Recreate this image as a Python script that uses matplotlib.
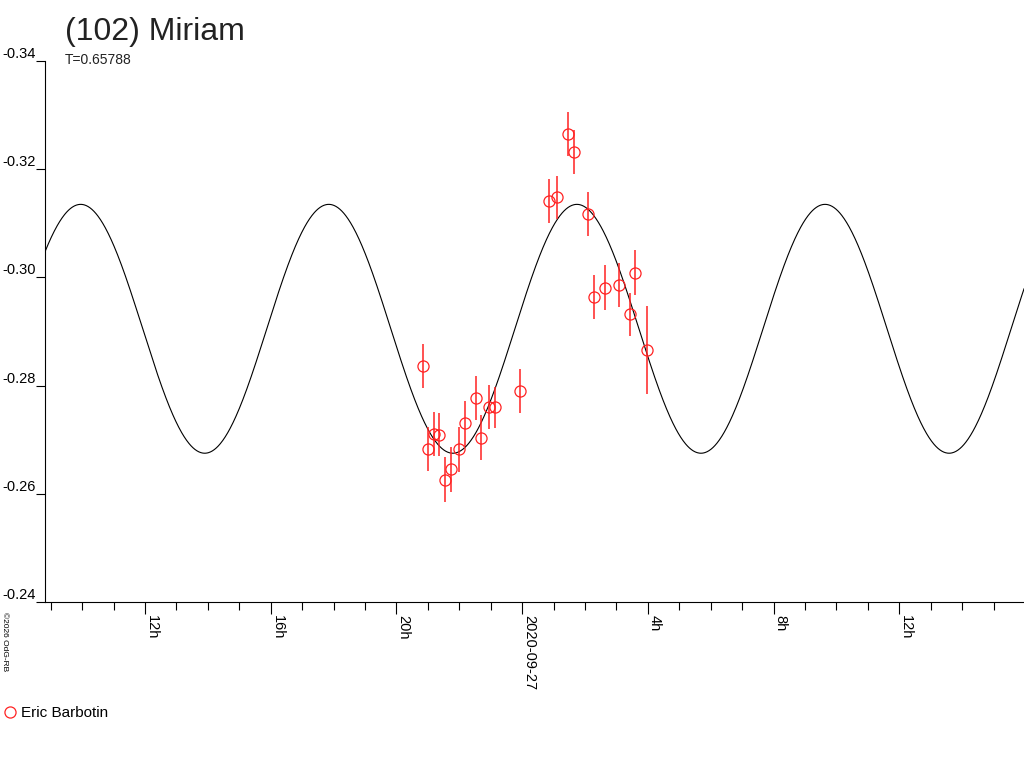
import numpy as np
import matplotlib
matplotlib.use("Agg")
import matplotlib.pyplot as plt
from matplotlib.lines import Line2D

plt.rcParams['font.family'] = ['Liberation Sans', 'DejaVu Sans']

# observations, time in hours since 2020-09-26 00:00
obs_hours = [20.84, 21.02, 21.19, 21.37, 21.56, 21.73, 22.00, 22.17, 22.53, 22.70,
             22.96, 23.15, 23.94, 24.86, 25.12, 25.47, 25.66, 26.11, 26.28, 26.64,
             27.09, 27.43, 27.60, 27.96]
obs_mag = [-0.2836, -0.2683, -0.2711, -0.2709, -0.2626, -0.2645, -0.2682, -0.2730,
           -0.2777, -0.2704, -0.2761, -0.2760, -0.2790, -0.3141, -0.3148, -0.3265,
           -0.3232, -0.3117, -0.2964, -0.2981, -0.2986, -0.2932, -0.3009, -0.2866]
obs_err = [0.0041, 0.0040, 0.0041, 0.0040, 0.0042, 0.0041, 0.0041, 0.0042,
           0.0041, 0.0041, 0.0041, 0.0038, 0.0040, 0.0041, 0.0040, 0.0041,
           0.0040, 0.0041, 0.0040, 0.0041, 0.0041, 0.0040, 0.0041, 0.0081]

# model curve parameters
period_days = 0.65788
mag_mean = -0.2905
amp = 0.0230
t_peak = 9.955  # hours, brightest point

tick_hours = [12, 16, 20, 24, 28, 32, 36]
tick_labels = ["12h", "16h", "20h", "2020-09-27", "4h", "8h", "12h"]
minor_hours = list(range(9, 40))
ytick_vals = [-0.34, -0.32, -0.30, -0.28, -0.26, -0.24]

W, H = 1024, 768
fig = plt.figure(figsize=(W / 100, H / 100), dpi=100)
ax = fig.add_axes([45 / W, 1 - 602 / H, (W - 45) / W, (602 - 61) / H])

x0, x1 = 8.82, 39.97
t = np.linspace(x0, x1, 2000)
half = period_days * 24 / 2
ax.plot(t, mag_mean - amp * np.cos(2 * np.pi * (t - t_peak) / half),
        color="black", lw=0.8)

red = "#ff2222"
ax.errorbar(obs_hours, obs_mag, yerr=obs_err, fmt="o", ms=8, mfc="none",
            mec=red, mew=0.9, ecolor=red, elinewidth=1.1, capsize=0)

ax.set_xlim(x0, x1)
ax.set_ylim(-0.24, -0.34)

for s in ["top", "right"]:
    ax.spines[s].set_visible(False)
ax.spines["left"].set_linewidth(0.8)
ax.spines["bottom"].set_linewidth(0.8)

ax.set_yticks(ytick_vals)
ax.set_yticklabels([f"{v:.2f}" for v in ytick_vals])
ax.tick_params(axis="y", length=6.5, width=0.8, pad=0, labelsize=10.5)
for lbl in ax.get_yticklabels():
    lbl.set_verticalalignment("bottom")

ax.set_xticks(tick_hours)
ax.set_xticklabels(tick_labels, rotation=-90, ha="left")
ax.set_xticks(minor_hours, minor=True)
ax.tick_params(axis="x", which="major", length=8.6, width=0.8, pad=1, labelsize=10.5)
ax.tick_params(axis="x", which="minor", length=5.8, width=0.8)

fig.text(65 / W, 1 - 40 / H, "(102) Miriam", fontsize=23, va="baseline", color="#222222")
fig.text(65 / W, 1 - 64 / H, "T=0.65788", fontsize=10, va="baseline", color="#222222")
fig.text(1 / W, 1 - 612 / H, "©2026 OdG-RB", fontsize=6, rotation=-90,
         ha="left", va="top")

handle = Line2D([], [], ls="none", marker="o", ms=8, mfc="none", mec=red, mew=0.9)
fig.legend(handles=[handle], labels=["Eric Barbotin"], loc="center left",
           bbox_to_anchor=(-0.011, 1 - 713 / H), frameon=False, fontsize=11,
           handlelength=1.0, handletextpad=0.2)

fig.savefig("out.png", dpi=100)
